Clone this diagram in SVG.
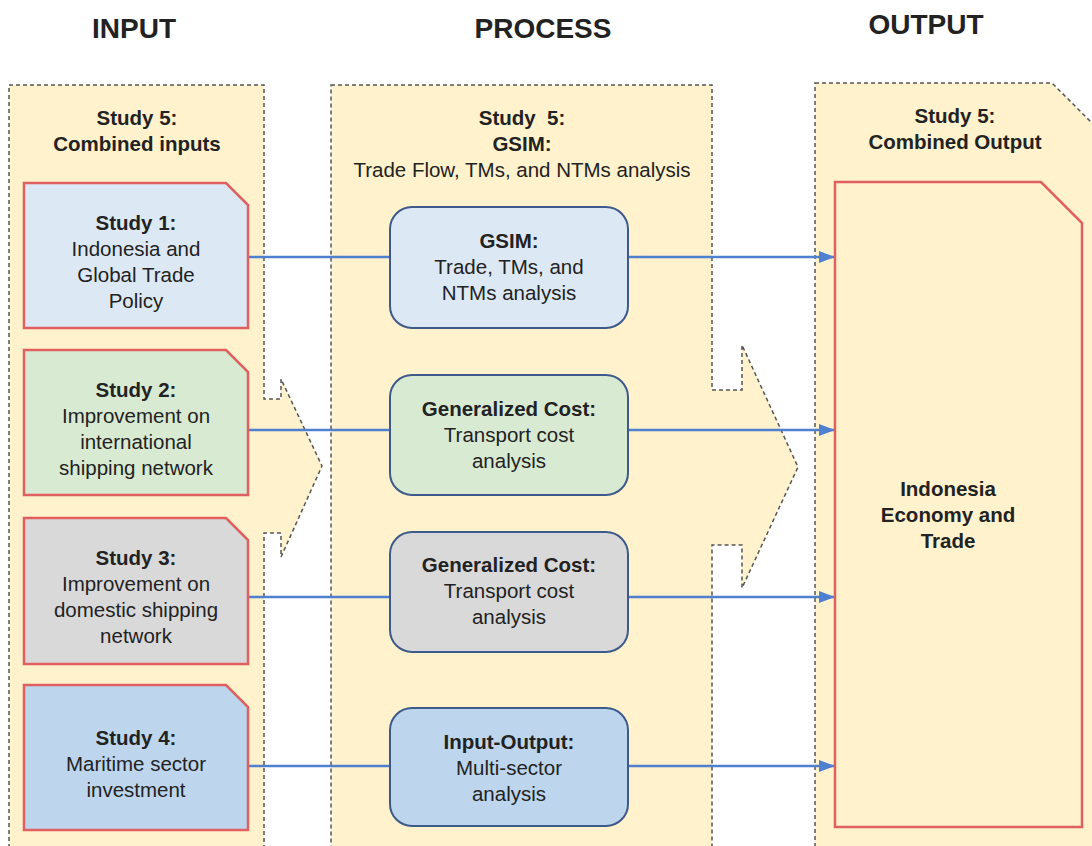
<svg xmlns="http://www.w3.org/2000/svg" width="1092" height="846" viewBox="0 0 1092 846">
<defs>
<style>
.cont{fill:#fff2cc;stroke:#555;stroke-width:1.5;stroke-dasharray:4 3}
.study{stroke:#e06060;stroke-width:2.5}
.proc{stroke:#3d5a8a;stroke-width:2}
.conn{stroke:#4f7fcf;stroke-width:2.5;fill:none}
text{font-family:"Liberation Sans",Arial,sans-serif;fill:#222;text-anchor:middle}
.h{font-size:28px;font-weight:bold}
.t{font-size:20.5px}
.b{font-weight:bold}
</style>
<marker id="arr" viewBox="0 0 16 12" refX="16" refY="6" markerWidth="16" markerHeight="12" markerUnits="userSpaceOnUse" orient="auto">
<path d="M0,0 L16,6 L0,12 Z" fill="#4f7fcf"/>
</marker>
</defs>
<rect width="1092" height="846" fill="#fff"/>
<g id="headings">
<text class="h" x="134" y="38">INPUT</text>
<text class="h" x="543" y="38">PROCESS</text>
<text class="h" x="926" y="34">OUTPUT</text>
</g>
<g id="input-container">
<path class="cont" d="M9,85 H264 V399 H281 V379 L322,466 L281,557 V533 H264 V852 H9 Z"/>
<text class="t b" x="137" y="125">Study 5:</text>
<text class="t b" x="137" y="151">Combined inputs</text>
</g>
<g id="process-container">
<path class="cont" d="M331,85 H712 V390 H742 V345 L798,467 L742,588 V545 H712 V852 H331 Z"/>
<text class="t b" x="522" y="125" xml:space="preserve">Study  5:</text>
<text class="t b" x="522" y="151">GSIM:</text>
<text class="t" x="522" y="177">Trade Flow, TMs, and NTMs analysis</text>
</g>
<g id="output-container">
<path class="cont" d="M815,83 H1052 L1100,131 V852 H815 Z"/>
<text class="t b" x="955" y="123">Study 5:</text>
<text class="t b" x="955" y="149">Combined Output</text>
</g>
<g id="connectors">
<line class="conn" x1="248" y1="257" x2="390" y2="257"/>
<line class="conn" x1="628" y1="257" x2="835" y2="257" marker-end="url(#arr)"/>
<line class="conn" x1="248" y1="430" x2="390" y2="430"/>
<line class="conn" x1="628" y1="430" x2="835" y2="430" marker-end="url(#arr)"/>
<line class="conn" x1="248" y1="597" x2="390" y2="597"/>
<line class="conn" x1="628" y1="597" x2="835" y2="597" marker-end="url(#arr)"/>
<line class="conn" x1="248" y1="766" x2="390" y2="766"/>
<line class="conn" x1="628" y1="766" x2="835" y2="766" marker-end="url(#arr)"/>
</g>
<g id="study1">
<path class="study" fill="#dde8f5" d="M24,183 H226 L248,205 V328 H24 Z"/>
<text class="t b" x="136" y="230">Study 1:</text>
<text class="t" x="136" y="256">Indonesia and</text>
<text class="t" x="136" y="282">Global Trade</text>
<text class="t" x="136" y="308">Policy</text>
</g>
<g id="study2">
<path class="study" fill="#d9ead3" d="M24,350 H226 L248,372 V495 H24 Z"/>
<text class="t b" x="136" y="397">Study 2:</text>
<text class="t" x="136" y="423">Improvement on</text>
<text class="t" x="136" y="449">international</text>
<text class="t" x="136" y="475">shipping network</text>
</g>
<g id="study3">
<path class="study" fill="#d9d9d9" d="M24,518 H226 L248,540 V664 H24 Z"/>
<text class="t b" x="136" y="565">Study 3:</text>
<text class="t" x="136" y="591">Improvement on</text>
<text class="t" x="136" y="617">domestic shipping</text>
<text class="t" x="136" y="643">network</text>
</g>
<g id="study4">
<path class="study" fill="#bdd6ee" d="M24,685 H226 L248,707 V830 H24 Z"/>
<text class="t b" x="136" y="745">Study 4:</text>
<text class="t" x="136" y="771">Maritime sector</text>
<text class="t" x="136" y="797">investment</text>
</g>
<g id="gsim">
<rect class="proc" fill="#dde8f5" x="390" y="207" width="238" height="121" rx="22"/>
<text class="t b" x="509" y="248">GSIM:</text>
<text class="t" x="509" y="274">Trade, TMs, and</text>
<text class="t" x="509" y="300">NTMs analysis</text>
</g>
<g id="gencost1">
<rect class="proc" fill="#d9ead3" x="390" y="375" width="238" height="120" rx="22"/>
<text class="t b" x="509" y="416">Generalized Cost:</text>
<text class="t" x="509" y="442">Transport cost</text>
<text class="t" x="509" y="468">analysis</text>
</g>
<g id="gencost2">
<rect class="proc" fill="#d9d9d9" x="390" y="532" width="238" height="120" rx="22"/>
<text class="t b" x="509" y="572">Generalized Cost:</text>
<text class="t" x="509" y="598">Transport cost</text>
<text class="t" x="509" y="624">analysis</text>
</g>
<g id="inputoutput">
<rect class="proc" fill="#bdd6ee" x="390" y="708" width="238" height="118" rx="22"/>
<text class="t b" x="509" y="749">Input-Output:</text>
<text class="t" x="509" y="775">Multi-sector</text>
<text class="t" x="509" y="801">analysis</text>
</g>
<g id="output">
<path class="study" fill="#fff2cc" d="M835,182 H1041 L1082,223 V827 H835 Z"/>
<text class="t b" x="948" y="496">Indonesia</text>
<text class="t b" x="948" y="522">Economy and</text>
<text class="t b" x="948" y="548">Trade</text>
</g>
</svg>
